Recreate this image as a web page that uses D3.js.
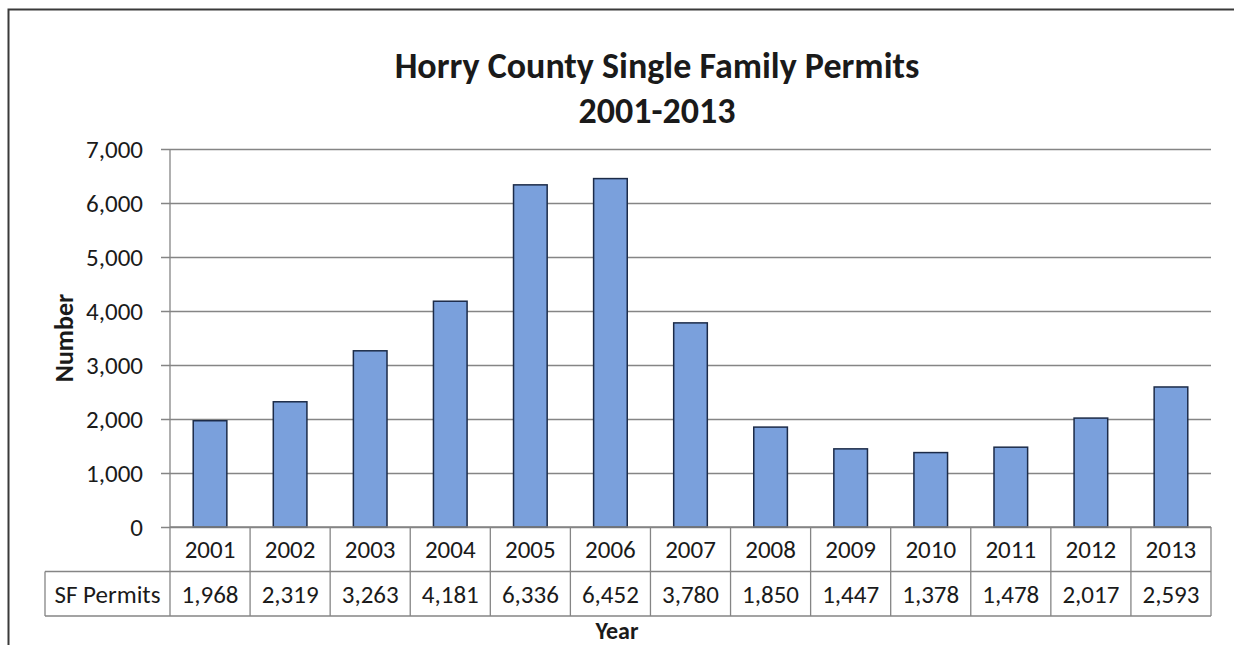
<!DOCTYPE html>
<html>
<head>
<meta charset="utf-8">
<script src="https://cdn.jsdelivr.net/npm/d3@7"></script>
<style>
  body { margin: 0; background: #fff; }
  svg text { font-family: Carlito, Lato, "Open Sans", sans-serif; fill: #1a1a1a; }
</style>
</head>
<body>
<div id="chart"></div>
<script>
var years = ["2001", "2002", "2003", "2004", "2005", "2006", "2007", "2008", "2009", "2010", "2011", "2012", "2013"];
var permits = [1968, 2319, 3263, 4181, 6336, 6452, 3780, 1850, 1447, 1378, 1478, 2017, 2593];
var yTicks = [0, 1000, 2000, 3000, 4000, 5000, 6000, 7000];
var seriesName = "SF Permits";

function init() {
    var w = 1234;
    var h = 645;
    var left = 170, right = 1211, top = 149, bottom = 527;
    var rowH = 44.5;

    var svg = d3.select("#chart")
                .append("svg")
                .attr("width", w)
                .attr("height", h);

    // outer chart border (cut off on right and bottom like the scan)
    svg.append("rect")
       .attr("x", 8.5).attr("y", 9.5)
       .attr("width", w + 20).attr("height", h + 20)
       .attr("fill", "none")
       .attr("stroke", "#3a3a3a")
       .attr("stroke-width", 2);

    var x = d3.scaleBand()
              .domain(years)
              .range([left, right])
              .padding(0);

    var y = d3.scaleLinear()
              .domain([0, 7000])
              .range([bottom, top]);

    // gridlines + y axis
    var yAxis = d3.axisLeft(y)
                  .tickValues(yTicks)
                  .tickSize(-(right - left))
                  .tickPadding(27)
                  .tickFormat(d3.format(","));

    var gy = svg.append("g")
                .attr("transform", "translate(" + left + ",0)")
                .call(yAxis);
    gy.select(".domain").remove();
    gy.selectAll(".tick line")
      .attr("x1", -9)
      .attr("stroke", "#858585")
      .attr("stroke-width", 1.3);
    gy.selectAll(".tick text")
      .style("font-size", "25px")
      .attr("dy", "0.35em");

    // bars
    var barW = x.bandwidth() * 0.42;
    svg.selectAll("rect.bar")
       .data(permits)
       .enter()
       .append("rect")
       .attr("class", "bar")
       .attr("x", function(d, i) { return x(years[i]) + (x.bandwidth() - barW) / 2; })
       .attr("y", function(d) { return y(d); })
       .attr("width", barW)
       .attr("height", function(d) { return bottom - y(d); })
       .attr("fill", "#7aa0dc")
       .attr("stroke", "#1c2b48")
       .attr("stroke-width", 1.5);

    // data table
    var grid = "#858585";
    var tbl = svg.append("g");
    // vertical lines
    tbl.selectAll("line.v")
       .data(years.concat(["end"]))
       .enter()
       .append("line")
       .attr("x1", function(d, i) { return i < years.length ? x(d) : right; })
       .attr("x2", function(d, i) { return i < years.length ? x(d) : right; })
       .attr("y1", function(d, i) { return i === 0 ? top : bottom; })
       .attr("y2", bottom + 2 * rowH)
       .attr("stroke", grid)
       .attr("stroke-width", 1.3);
    // horizontal lines
    tbl.append("line")
       .attr("x1", left).attr("x2", right)
       .attr("y1", bottom).attr("y2", bottom)
       .attr("stroke", grid).attr("stroke-width", 1.3);
    tbl.append("line")
       .attr("x1", 45).attr("x2", right)
       .attr("y1", bottom + rowH).attr("y2", bottom + rowH)
       .attr("stroke", grid).attr("stroke-width", 1.3);
    tbl.append("line")
       .attr("x1", 45).attr("x2", right)
       .attr("y1", bottom + 2 * rowH).attr("y2", bottom + 2 * rowH)
       .attr("stroke", grid).attr("stroke-width", 1.3);
    tbl.append("line")
       .attr("x1", 45).attr("x2", 45)
       .attr("y1", bottom + rowH).attr("y2", bottom + 2 * rowH)
       .attr("stroke", grid).attr("stroke-width", 1.3);

    tbl.selectAll("text.year")
       .data(years)
       .enter()
       .append("text")
       .attr("x", function(d) { return x(d) + x.bandwidth() / 2; })
       .attr("y", bottom + 31)
       .attr("text-anchor", "middle")
       .style("font-size", "25px")
       .text(function(d) { return d; });

    tbl.selectAll("text.val")
       .data(permits)
       .enter()
       .append("text")
       .attr("x", function(d, i) { return x(years[i]) + x.bandwidth() / 2; })
       .attr("y", bottom + rowH + 31)
       .attr("text-anchor", "middle")
       .style("font-size", "25px")
       .text(function(d) { return d3.format(",")(d); });

    tbl.append("text")
       .attr("x", (45 + left) / 2)
       .attr("y", bottom + rowH + 31)
       .attr("text-anchor", "middle")
       .style("font-size", "25px")
       .text(seriesName);

    // titles
    svg.append("text")
       .attr("x", 657).attr("y", 78)
       .attr("text-anchor", "middle")
       .style("font-size", "36px").style("font-weight", "bold")
       .text("Horry County Single Family Permits");
    svg.append("text")
       .attr("x", 657).attr("y", 123)
       .attr("text-anchor", "middle")
       .style("font-size", "36px").style("font-weight", "bold")
       .text("2001-2013");

    svg.append("text")
       .attr("transform", "translate(73,338) rotate(-90)")
       .attr("text-anchor", "middle")
       .style("font-size", "26px").style("font-weight", "bold")
       .text("Number");

    svg.append("text")
       .attr("x", 617).attr("y", 639)
       .attr("text-anchor", "middle")
       .style("font-size", "24px").style("font-weight", "bold")
       .text("Year");
}

window.onload = init;
</script>
</body>
</html>
